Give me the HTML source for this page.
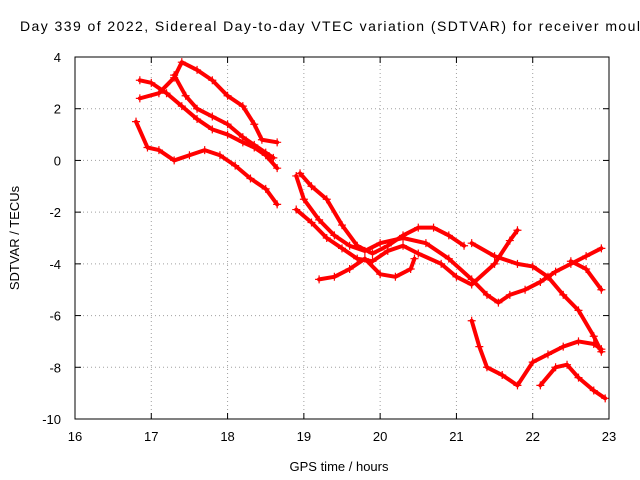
<!DOCTYPE html>
<html><head><meta charset="utf-8"><style>
body{margin:0;background:#fff}
svg{display:block;font-family:"Liberation Sans",sans-serif;font-size:13px}
</style></head><body>
<svg width="640" height="480" id="chart">
<rect width="640" height="480" fill="#fff"/>
<text x="20" y="31" font-size="14" textLength="620" lengthAdjust="spacing">Day 339 of 2022, Sidereal Day-to-day VTEC variation (SDTVAR) for receiver moul</text>
<text x="339" y="471" text-anchor="middle">GPS time / hours</text>
<text transform="translate(19,238) rotate(-90)" text-anchor="middle">SDTVAR / TECUs</text>
<g id="grid"></g><g id="series"></g>
<rect x="75" y="57" width="534" height="362" fill="none" stroke="#000"/>
</svg>
<script>
const xTicks=[16,17,18,19,20,21,22,23];
const yTicks=[4,2,0,-2,-4,-6,-8,-10];
const tracks=[
[[16.85,3.1],[17.0,3.0],[17.2,2.6],[17.4,2.1],[17.6,1.6],[17.8,1.2],[18.0,1.0],[18.2,0.7],[18.35,0.5],[18.5,0.2],[18.65,-0.3]],
[[16.85,2.4],[17.1,2.6],[17.3,3.2],[17.4,3.8],[17.6,3.5],[17.8,3.1],[18.0,2.5],[18.2,2.1],[18.35,1.4],[18.45,0.8],[18.65,0.7]],
[[17.3,3.3],[17.45,2.5],[17.6,2.0],[17.8,1.7],[18.0,1.4],[18.2,0.9],[18.35,0.6],[18.5,0.3],[18.6,0.1]],
[[16.8,1.5],[16.95,0.5],[17.1,0.4],[17.3,0.0],[17.5,0.2],[17.7,0.4],[17.9,0.2],[18.1,-0.2],[18.3,-0.7],[18.5,-1.1],[18.65,-1.7]],
[[18.95,-0.5],[19.1,-1.0],[19.3,-1.5],[19.5,-2.5],[19.7,-3.3],[19.9,-3.6],[20.1,-3.3],[20.3,-2.9],[20.5,-2.6],[20.7,-2.6],[20.9,-2.9],[21.1,-3.3]],
[[18.9,-0.6],[19.0,-1.5],[19.2,-2.3],[19.4,-2.9],[19.6,-3.3],[19.8,-3.5],[20.0,-3.2],[20.3,-3.0],[20.6,-3.2],[20.9,-3.8],[21.2,-4.6],[21.4,-5.2],[21.55,-5.5],[21.7,-5.2],[21.9,-5.0],[22.1,-4.7],[22.3,-4.3],[22.5,-4.0],[22.7,-3.7],[22.9,-3.4]],
[[18.9,-1.9],[19.1,-2.4],[19.3,-3.0],[19.5,-3.4],[19.7,-3.8],[19.9,-3.9],[20.1,-3.5],[20.3,-3.3],[20.5,-3.6],[20.8,-4.0],[21.0,-4.5],[21.2,-4.8],[21.5,-4.0],[21.7,-3.1],[21.8,-2.7]],
[[19.2,-4.6],[19.4,-4.5],[19.6,-4.2],[19.8,-3.8],[20.0,-4.4],[20.2,-4.5],[20.4,-4.2],[20.45,-3.8]],
[[21.2,-3.2],[21.5,-3.7],[21.8,-4.0],[22.0,-4.1],[22.2,-4.5],[22.4,-5.2],[22.6,-5.8],[22.8,-6.8],[22.9,-7.4]],
[[21.2,-6.2],[21.3,-7.2],[21.4,-8.0],[21.6,-8.3],[21.8,-8.7],[22.0,-7.8],[22.2,-7.5],[22.4,-7.2],[22.6,-7.0],[22.8,-7.1],[22.9,-7.3]],
[[22.1,-8.7],[22.3,-8.0],[22.45,-7.9],[22.6,-8.4],[22.8,-8.9],[22.95,-9.2]],
[[22.5,-3.9],[22.7,-4.2],[22.9,-5.0]]
];
const X=v=>75+(v-16)*534/7, Y=v=>57+(4-v)*362/14;
const NS="http://www.w3.org/2000/svg";
const g=document.getElementById('grid'), s=document.getElementById('series');
function mk(t,a,p){const e=document.createElementNS(NS,t);for(const k in a)e.setAttribute(k,a[k]);p.appendChild(e);return e;}
xTicks.forEach(v=>{
 if(v>16&&v<23){const l=mk('line',{x1:X(v),x2:X(v),y1:57,y2:419,stroke:'#a0a0a0','stroke-dasharray':'1,3'},g);
 
 }
 mk('line',{x1:X(v),x2:X(v),y1:419,y2:413,stroke:'#000'},g);
 mk('line',{x1:X(v),x2:X(v),y1:57,y2:63,stroke:'#000'},g);
 const t=mk('text',{x:X(v),y:441,'text-anchor':'middle'},g);t.textContent=v;
 
 
});
yTicks.forEach(v=>{
 if(v<4&&v>-10){const l=mk('line',{x1:75,x2:609,y1:Y(v),y2:Y(v),stroke:'#a0a0a0','stroke-dasharray':'1,3'},g);
 
 }
 mk('line',{x1:75,x2:81,y1:Y(v),y2:Y(v),stroke:'#000'},g);
 mk('line',{x1:609,x2:603,y1:Y(v),y2:Y(v),stroke:'#000'},g);
 const t=mk('text',{x:61,y:Y(v)+5,'text-anchor':'end'},g);t.textContent=v;
 
 
});
tracks.forEach((tr,i)=>{
 const p=mk('polyline',{points:tr.map(d=>X(d[0])+','+Y(d[1])).join(' '),fill:'none',stroke:'#f00','stroke-width':4,'stroke-linejoin':'round','stroke-linecap':'round'},s);
 
 
 tr.forEach(d=>{const x=X(d[0]),y=Y(d[1]);
  const m=mk('path',{d:`M${x-4},${y}H${x+4}M${x},${y-4}V${y+4}`,stroke:'#f00','stroke-width':1.2},s);
  
  });
});
</script>
</body></html>
